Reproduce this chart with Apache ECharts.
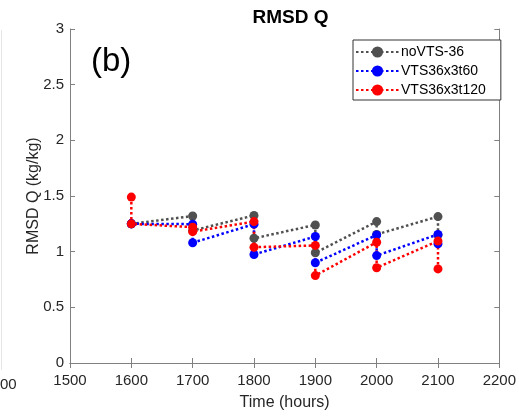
<!DOCTYPE html>
<html><head><meta charset="utf-8">
<script src="https://cdn.jsdelivr.net/npm/echarts@6/dist/echarts.min.js"></script>
<style>html,body{margin:0;padding:0;background:#fff}#c{width:519px;height:416px}</style>
</head><body><div id="c"></div>
<script>
const hours = [1600,1600,1700,1700,1800,1800,1900,1900,2000,2000,2100,2100];
const noVTS = [1.25,1.25,1.32,1.19,1.325,1.12,1.24,0.99,1.27,1.155,1.315,1.15];
const vts60 = [1.25,1.25,1.247,1.08,1.247,0.975,1.136,0.90,1.15,0.965,1.155,1.07];
const vts120 = [1.49,1.25,1.22,1.18,1.27,1.04,1.056,0.785,1.085,0.856,1.095,0.845];
const seriesNames = ['noVTS-36','VTS36x3t60','VTS36x3t120'];
const seriesColors = ['#505050','#0000ff','#ff0000'];
const xTicks = [1500,1600,1700,1800,1900,2000,2100,2200];
const yTicks = [0,0.5,1,1.5,2,2.5,3];

const chart = echarts.init(document.getElementById('c'), null, {renderer:'canvas'});
const axisCol = '#808080', txt = '#262626', FF = 'Liberation Sans, Arial';
const pair = v => hours.map((h,i)=>[h,v[i]]);
const mkSeries = (name, vals, col) => ({
  name, type:'line', data: pair(vals), xAxisIndex:0, yAxisIndex:0,
  symbol:'circle', symbolSize:9, showSymbol:true,
  lineStyle:{color:col, width:2.5, type:[2.5,2.5]},
  itemStyle:{color:col}, animation:false, z:3
});
chart.setOption({
  animation:false,
  title:{text:'RMSD Q', left:285.5, textAlign:'center', top:3,
    textStyle:{fontFamily:FF, fontSize:19, fontWeight:'bold', color:'#000'}},
  grid:{left:70, right:18, top:29, bottom:48, containLabel:false},
  legend:{orient:'vertical', left:353, top:40, data:seriesNames,
    itemWidth:43, itemHeight:14, itemGap:5,
    borderColor:'#333', borderWidth:1, padding:[5,15,3,2], backgroundColor:'#fff',
    textStyle:{fontFamily:FF, fontSize:14, color:'#000', padding:[0,0,0,-3]}},
  xAxis:[{type:'value', min:1500, max:2200, interval:100, position:'bottom',
    name:'Time (hours)', nameLocation:'middle', nameGap:32,
    nameTextStyle:{fontFamily:FF, fontSize:16, color:txt},
    axisLine:{show:true, lineStyle:{color:axisCol}},
    axisTick:{show:true, inside:true, length:5, lineStyle:{color:axisCol}},
    axisLabel:{show:true, margin:10, color:txt, fontFamily:FF, fontSize:15,
      formatter:v=>xTicks.includes(v)?String(v):''},
    splitLine:{show:false}},
   {type:'value', min:1500, max:2200, interval:100, position:'top',
    axisLine:{show:true, lineStyle:{color:axisCol}},
    axisTick:{show:true, inside:true, length:5, lineStyle:{color:axisCol}},
    axisLabel:{show:false}, splitLine:{show:false}}],
  yAxis:[{type:'value', min:0, max:3, interval:0.5, position:'left',
    name:'RMSD Q (kg/kg)', nameLocation:'middle', nameGap:28, nameMoveOverlap:false,
    nameTextStyle:{fontFamily:FF, fontSize:16, color:txt},
    axisLine:{show:true, lineStyle:{color:axisCol}},
    axisTick:{show:true, inside:true, length:5, lineStyle:{color:axisCol}},
    axisLabel:{show:true, margin:6, color:txt, fontFamily:FF, fontSize:15,
      formatter:v=>yTicks.includes(v)?String(v):''},
    splitLine:{show:false}},
   {type:'value', min:0, max:3, interval:0.5, position:'right',
    axisLine:{show:true, lineStyle:{color:axisCol}},
    axisTick:{show:true, inside:true, length:5, lineStyle:{color:axisCol}},
    axisLabel:{show:false}, splitLine:{show:false}}],
  graphic:[
    {type:'text', left:91, top:45, style:{text:'(b)', font:'33px "Liberation Sans", Arial', fill:'#000'}},
    {type:'text', left:0, top:377, style:{text:'00', font:'15px "Liberation Sans", Arial', fill:txt}},
    {type:'line', shape:{x1:1.5,y1:30,x2:1.5,y2:370}, style:{stroke:'#e6e6e6', lineWidth:1}}
  ],
  series:[
    mkSeries(seriesNames[0], noVTS, seriesColors[0]),
    mkSeries(seriesNames[1], vts60, seriesColors[1]),
    mkSeries(seriesNames[2], vts120, seriesColors[2])
  ]
});
</script></body></html>
